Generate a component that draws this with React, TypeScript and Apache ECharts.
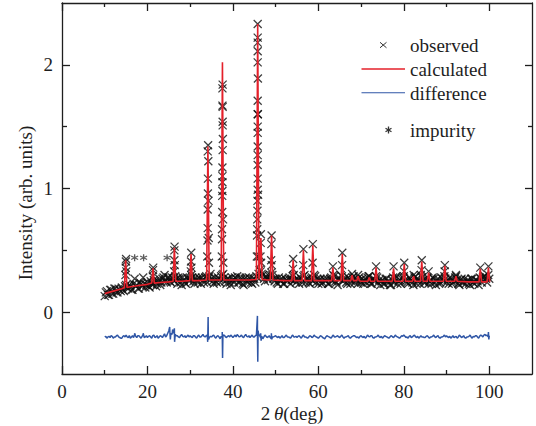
import React, { useEffect, useRef } from "react";
import * as echarts from "echarts";

// ---------- data ----------
const OBS_START = 10;
const OBS_STEP = 0.5;
// observed intensity, 10..100 deg every 0.5 deg (background region)
const obsBase = [
  0.13, 0.17, 0.14, 0.18, 0.15, 0.19, 0.16, 0.18, 0.2, 0.17,
  0.22, 0.19, 0.21, 0.18, 0.27, 0.22, 0.19, 0.23, 0.28, 0.2,
  0.24, 0.2, 0.23, 0.26, 0.21, 0.25, 0.22, 0.27, 0.3, 0.24,
  0.28, 0.24, 0.27, 0.29, 0.23, 0.27, 0.22, 0.26, 0.23, 0.27,
  0.27, 0.28, 0.23, 0.26, 0.28, 0.23, 0.26, 0.28, 0.24, 0.29,
  0.27, 0.23, 0.25, 0.28, 0.24, 0.3, 0.28, 0.23, 0.27, 0.22,
  0.26, 0.28, 0.29, 0.24, 0.27, 0.22, 0.28, 0.24, 0.27, 0.23,
  0.27, 0.29, 0.31, 0.33, 0.3, 0.25, 0.28, 0.29, 0.32, 0.27,
  0.27, 0.23, 0.26, 0.27, 0.23, 0.26, 0.27, 0.23, 0.29, 0.26,
  0.27, 0.23, 0.27, 0.29, 0.24, 0.27, 0.23, 0.28, 0.3, 0.24,
  0.23, 0.27, 0.24, 0.26, 0.27, 0.23, 0.28, 0.3, 0.25, 0.22,
  0.27, 0.29, 0.26, 0.24, 0.28, 0.23, 0.28, 0.24, 0.26, 0.28,
  0.24, 0.23, 0.27, 0.28, 0.25, 0.23, 0.27, 0.29, 0.24, 0.22,
  0.26, 0.23, 0.27, 0.24, 0.22, 0.28, 0.27, 0.23, 0.26, 0.27,
  0.29, 0.25, 0.23, 0.27, 0.24, 0.28, 0.23, 0.26, 0.3, 0.26,
  0.24, 0.28, 0.25, 0.23, 0.27, 0.22, 0.27, 0.24, 0.27, 0.29,
  0.24, 0.23, 0.27, 0.24, 0.28, 0.26, 0.22, 0.27, 0.24, 0.23,
  0.26, 0.22, 0.27, 0.23, 0.26, 0.22, 0.27, 0.28, 0.29, 0.24,
  0.27,
];
// observed intensity at the in-between angles 10.25..99.75 deg
const OBS_MID_START = 10.25;
const obsMid = [
  0.16, 0.14, 0.18, 0.15, 0.19, 0.16, 0.19, 0.17, 0.18, 0.21,
  0.2, 0.22, 0.18, 0.23, 0.21, 0.19, 0.24, 0.21, 0.23, 0.22,
  0.21, 0.25, 0.22, 0.25, 0.23, 0.27, 0.24, 0.28, 0.25, 0.28,
  0.25, 0.28, 0.25, 0.27, 0.28, 0.24, 0.28, 0.24, 0.28, 0.25,
  0.3, 0.25, 0.28, 0.24, 0.27, 0.28, 0.24, 0.29, 0.27, 0.31,
  0.25, 0.28, 0.24, 0.27, 0.29, 0.31, 0.25, 0.27, 0.24, 0.28,
  0.24, 0.27, 0.24, 0.28, 0.23, 0.27, 0.25, 0.28, 0.24, 0.27,
  0.24, 0.28, 0.34, 0.31, 0.27, 0.29, 0.26, 0.3, 0.3, 0.25,
  0.24, 0.28, 0.25, 0.23, 0.27, 0.25, 0.28, 0.26, 0.3, 0.24,
  0.26, 0.28, 0.24, 0.3, 0.27, 0.24, 0.27, 0.25, 0.29, 0.27,
  0.26, 0.23, 0.27, 0.25, 0.23, 0.27, 0.25, 0.29, 0.24, 0.27,
  0.3, 0.25, 0.28, 0.23, 0.27, 0.25, 0.29, 0.26, 0.23, 0.26,
  0.27, 0.25, 0.24, 0.29, 0.23, 0.27, 0.25, 0.28, 0.26, 0.25,
  0.23, 0.27, 0.25, 0.22, 0.26, 0.24, 0.29, 0.25, 0.23, 0.28,
  0.26, 0.24, 0.28, 0.25, 0.22, 0.29, 0.26, 0.23, 0.28, 0.24,
  0.27, 0.23, 0.26, 0.28, 0.24, 0.26, 0.23, 0.28, 0.25, 0.27,
  0.26, 0.28, 0.23, 0.25, 0.29, 0.23, 0.26, 0.24, 0.27, 0.25,
  0.23, 0.27, 0.24, 0.26, 0.25, 0.28, 0.24, 0.29, 0.27, 0.3,
];
// observed points on the Bragg peaks [2theta, intensity]
const obsPeakPoints = [
  [14.85, 0.3], [14.9, 0.36], [14.95, 0.41], [15.0, 0.43], [15.05, 0.33],
  [21.25, 0.29], [21.3, 0.34], [21.35, 0.36],
  [26.25, 0.33], [26.3, 0.42], [26.3, 0.5], [26.35, 0.53], [26.4, 0.38],
  [30.15, 0.33], [30.2, 0.41], [30.25, 0.48], [30.3, 0.36],
  [34.0, 0.45], [34.05, 0.58], [34.1, 0.68], [34.1, 0.83], [34.15, 0.96], [34.15, 1.08],
  [34.1, 1.3], [34.2, 1.35], [34.25, 1.22], [34.3, 0.9], [34.35, 0.6], [34.4, 0.4],
  [37.4, 0.45], [37.45, 0.59], [37.45, 0.67], [37.5, 0.81], [37.5, 0.94], [37.55, 0.98],
  [37.55, 1.05], [37.55, 1.1], [37.55, 1.17], [37.6, 1.31], [37.6, 1.51], [37.6, 1.54],
  [37.6, 1.66], [37.55, 1.67], [37.55, 1.81], [37.6, 1.84], [37.65, 1.4], [37.7, 0.75], [37.75, 0.4],
  [45.6, 0.45], [45.65, 0.62], [45.7, 0.67], [45.7, 0.75], [45.75, 0.82], [45.75, 0.9],
  [45.8, 0.99], [45.8, 1.08], [45.8, 1.19], [45.8, 1.27], [45.8, 1.34], [45.8, 1.45],
  [45.8, 1.5], [45.8, 1.6], [45.8, 1.71], [45.85, 1.89], [45.8, 2.02], [45.8, 2.11],
  [45.8, 2.18], [45.8, 2.22], [45.8, 2.33], [45.85, 1.6], [45.9, 0.95], [45.95, 0.45],
  [46.45, 0.45], [46.5, 0.56], [46.55, 0.63], [46.6, 0.4],
  [48.95, 0.42], [49.0, 0.55], [49.05, 0.62], [49.1, 0.38],
  [54.05, 0.35], [54.1, 0.43],
  [56.45, 0.38], [56.5, 0.51],
  [58.65, 0.4], [58.7, 0.55],
  [63.4, 0.37], [65.55, 0.38], [65.6, 0.48],
  [67.9, 0.31], [69.3, 0.3], [71.9, 0.29], [73.5, 0.37], [77.6, 0.37],
  [80.05, 0.33], [80.1, 0.4], [82.3, 0.3], [84.15, 0.34], [84.2, 0.42],
  [85.8, 0.33], [89.55, 0.33], [89.6, 0.38], [92.2, 0.3], [97.9, 0.36],
  [99.8, 0.37],
];

// calculated profile: background points and peaks
const calcBgX = [10, 12, 14, 16, 18, 20, 23, 25, 28, 32, 36, 40, 44, 48, 52, 60, 62, 70, 76, 79, 87, 91, 95, 99];
const calcBgY = [0.15, 0.17, 0.19, 0.205, 0.215, 0.225, 0.24, 0.245, 0.25, 0.255, 0.26, 0.26, 0.26, 0.26, 0.255, 0.255, 0.255, 0.25, 0.25, 0.25, 0.25, 0.25, 0.245, 0.245];
const peakPos = [14.9, 21.3, 26.3, 30.2, 34.15, 37.55, 45.8, 46.55, 49.05, 54.1, 56.5, 58.7, 63.4, 65.6, 67.9, 69.3, 71.9, 73.5, 77.6, 80.1, 82.3, 84.2, 85.8, 89.6, 92.2, 97.9, 99.8];
const peakTop = [0.42, 0.355, 0.52, 0.47, 1.34, 2.02, 2.33, 0.6, 0.62, 0.42, 0.5, 0.54, 0.36, 0.47, 0.3, 0.29, 0.28, 0.36, 0.355, 0.39, 0.29, 0.41, 0.32, 0.375, 0.29, 0.35, 0.36];
const peakBase = [0.2, 0.235, 0.25, 0.255, 0.26, 0.26, 0.265, 0.265, 0.26, 0.255, 0.255, 0.255, 0.255, 0.255, 0.255, 0.255, 0.25, 0.25, 0.25, 0.25, 0.25, 0.25, 0.25, 0.25, 0.25, 0.245, 0.245];
const PEAK_HALF = 0.3;

// difference curve, every 0.5 deg, in-between angles, plus spikes
const diffBase = [
  -0.2, -0.21, -0.195, -0.19, -0.21, -0.2, -0.185, -0.205, -0.21, -0.19,
  -0.185, -0.205, -0.21, -0.19, -0.18, -0.205, -0.19, -0.21, -0.18, -0.2,
  -0.205, -0.19, -0.21, -0.185, -0.2, -0.21, -0.19, -0.205, -0.175, -0.19,
  -0.15, -0.17, -0.16, -0.18, -0.19, -0.205, -0.18, -0.2, -0.205, -0.185,
  -0.19, -0.205, -0.19, -0.21, -0.185, -0.2, -0.18, -0.2, -0.185, -0.205,
  -0.2, -0.185, -0.21, -0.19, -0.215, -0.2, -0.185, -0.205, -0.19, -0.185,
  -0.205, -0.185, -0.18, -0.2, -0.185, -0.205, -0.18, -0.2, -0.205, -0.185,
  -0.2, -0.185, -0.175, -0.205, -0.215, -0.185, -0.205, -0.19, -0.215, -0.2,
  -0.19, -0.205, -0.21, -0.19, -0.205, -0.185, -0.2, -0.21, -0.185, -0.2,
  -0.205, -0.19, -0.21, -0.185, -0.2, -0.21, -0.19, -0.205, -0.185, -0.2,
  -0.21, -0.19, -0.205, -0.215, -0.19, -0.2, -0.21, -0.185, -0.2, -0.19,
  -0.205, -0.185, -0.21, -0.2, -0.19, -0.21, -0.195, -0.19, -0.205, -0.21,
  -0.19, -0.205, -0.21, -0.185, -0.2, -0.19, -0.21, -0.2, -0.185, -0.205,
  -0.21, -0.19, -0.2, -0.21, -0.19, -0.205, -0.185, -0.2, -0.21, -0.19,
  -0.185, -0.205, -0.21, -0.19, -0.2, -0.185, -0.205, -0.21, -0.19, -0.2,
  -0.205, -0.19, -0.21, -0.2, -0.185, -0.205, -0.19, -0.21, -0.2, -0.185,
  -0.19, -0.205, -0.21, -0.19, -0.2, -0.21, -0.185, -0.205, -0.19, -0.21,
  -0.2, -0.185, -0.21, -0.2, -0.19, -0.21, -0.185, -0.2, -0.18, -0.185,
  -0.19,
];
const diffMid = [
  -0.195, -0.2, -0.205, -0.195, -0.2, -0.19, -0.2, -0.21, -0.195, -0.2,
  -0.2, -0.19, -0.2, -0.205, -0.195, -0.19, -0.2, -0.195, -0.205, -0.19,
  -0.195, -0.2, -0.19, -0.205, -0.19, -0.2, -0.195, -0.19, -0.2, -0.17,
  -0.16, -0.18, -0.17, -0.19, -0.2, -0.19, -0.195, -0.19, -0.195, -0.2,
  -0.2, -0.19, -0.2, -0.195, -0.2, -0.19, -0.195, -0.19, -0.2, -0.195,
  -0.19, -0.2, -0.195, -0.2, -0.195, -0.19, -0.2, -0.195, -0.2, -0.195,
  -0.195, -0.2, -0.19, -0.195, -0.2, -0.19, -0.195, -0.19, -0.195, -0.2,
  -0.19, -0.2, -0.19, -0.195, -0.2, -0.195, -0.2, -0.205, -0.2, -0.195,
  -0.2, -0.195, -0.2, -0.205, -0.195, -0.2, -0.205, -0.195, -0.2, -0.195,
  -0.195, -0.2, -0.195, -0.2, -0.205, -0.2, -0.195, -0.2, -0.195, -0.205,
  -0.2, -0.195, -0.21, -0.2, -0.195, -0.205, -0.195, -0.2, -0.195, -0.2,
  -0.195, -0.2, -0.2, -0.195, -0.205, -0.2, -0.19, -0.2, -0.2, -0.195,
  -0.2, -0.195, -0.2, -0.195, -0.19, -0.205, -0.2, -0.195, -0.2, -0.195,
  -0.2, -0.195, -0.205, -0.2, -0.195, -0.2, -0.195, -0.205, -0.2, -0.195,
  -0.195, -0.2, -0.195, -0.205, -0.19, -0.2, -0.195, -0.2, -0.2, -0.205,
  -0.195, -0.2, -0.2, -0.195, -0.2, -0.195, -0.205, -0.2, -0.195, -0.2,
  -0.2, -0.195, -0.2, -0.205, -0.195, -0.2, -0.195, -0.2, -0.205, -0.2,
  -0.195, -0.2, -0.195, -0.19, -0.2, -0.195, -0.19, -0.185, -0.19, -0.2,
];
const diffSpikes = [
  [17.0, -0.17], [19.0, -0.17], [24.0, -0.17],
  [25.2, -0.12], [25.35, -0.22], [25.9, -0.14], [26.3, -0.13], [26.35, -0.24],
  [34.1, -0.24], [34.2, -0.04], [34.3, -0.22],
  [37.5, -0.16], [37.58, -0.37], [37.66, -0.18],
  [45.74, -0.03], [45.82, -0.4], [45.9, -0.15],
  [46.5, -0.17], [46.6, -0.23], [49.0, -0.17], [49.1, -0.22],
  [99.8, -0.16], [99.9, -0.22],
];

const impurityX = [17.0, 19.1, 24.6];
const impurityY = [0.44, 0.44, 0.44];

const xMajor = [0, 20, 40, 60, 80, 100];
const xMinor = [10, 30, 50, 70, 90];
const yMajor = [0, 1, 2];
const yMinor = [0.5, 1.5];

const legendNames = ["observed", "calculated", "difference", "impurity"];

// ---------- build series data ----------
const byX = (a: number[], b: number[]) => a[0] - b[0];
const obsData = obsBase
  .map((y, i) => [OBS_START + i * OBS_STEP, y])
  .concat(obsMid.map((y, i) => [OBS_MID_START + i * OBS_STEP, y]))
  .concat(obsPeakPoints);
const calcData: number[][] = calcBgX.map((x, i) => [x, calcBgY[i]]);
peakPos.forEach((p, i) => {
  calcData.push([p - PEAK_HALF, peakBase[i]], [p, peakTop[i]], [p + PEAK_HALF, peakBase[i]]);
});
calcData.sort(byX);
const diffData = diffBase
  .map((y, i) => [OBS_START + i * OBS_STEP, y])
  .concat(diffMid.map((y, i) => [OBS_MID_START + i * OBS_STEP, y]))
  .concat(diffSpikes)
  .sort(byX);
const impData = impurityX.map((x, i) => [x, impurityY[i]]);

const FONT = "Liberation Serif";
const INK = "#1e1e1e";
const RED = "#e4202a";
const BLUE = "#2f56a6";

function tickAxis(kind: "x" | "y", pos: string, values: number[], len: number, line: boolean, labels: boolean) {
  return {
    type: "value",
    position: pos,
    min: kind === "x" ? 0 : -0.5,
    max: kind === "x" ? 110 : 2.5,
    splitLine: { show: false },
    axisLine: { show: line, onZero: false, lineStyle: { color: INK, width: 1.3 } },
    axisTick: {
      show: true,
      inside: true,
      length: len,
      customValues: values,
      lineStyle: { color: INK, width: 1.3 },
    },
    axisLabel: labels
      ? {
          show: true,
          customValues: values,
          margin: kind === "x" ? 8 : 9,
          fontFamily: FONT,
          fontSize: 19,
          color: INK,
        }
      : { show: false },
  };
}

export default function App() {
  const ref = useRef<HTMLDivElement>(null);
  useEffect(() => {
    if (!ref.current) return;
    const chart = echarts.init(ref.current, null, { renderer: "svg" });
    const legendFont = { fontFamily: FONT, fontSize: 19, fill: INK };
    chart.setOption({
      animation: false,
      textStyle: { fontFamily: FONT },
      grid: { left: 62, top: 3, right: 4, bottom: 52, containLabel: false, outerBoundsMode: "none" },
      xAxis: [
        tickAxis("x", "bottom", xMajor, 8, true, true),
        tickAxis("x", "bottom", xMinor, 4, false, false),
        tickAxis("x", "top", xMajor, 8, true, false),
        tickAxis("x", "top", xMinor, 4, false, false),
      ],
      yAxis: [
        tickAxis("y", "left", yMajor, 8, true, true),
        tickAxis("y", "left", yMinor, 5, false, false),
        tickAxis("y", "right", yMajor, 7, true, false),
        tickAxis("y", "right", yMinor, 4, false, false),
      ],
      series: [
        {
          name: legendNames[0],
          type: "scatter",
          data: obsData,
          symbol: "path://M0 0L10 10M10 0L0 10",
          symbolSize: 8,
          itemStyle: { color: "transparent", borderColor: "#0d0d0d", borderWidth: 1.25 },
          z: 2,
        },
        {
          name: legendNames[1],
          type: "line",
          data: calcData,
          showSymbol: false,
          symbol: "none",
          lineStyle: { color: RED, width: 1.6 },
          z: 3,
        },
        {
          name: legendNames[2],
          type: "line",
          data: diffData,
          showSymbol: false,
          symbol: "none",
          lineStyle: { color: BLUE, width: 1.5 },
          z: 3,
        },
        {
          name: legendNames[3],
          type: "scatter",
          data: impData,
          symbol: "path://M5 0L5 10M0.7 2.5L9.3 7.5M0.7 7.5L9.3 2.5",
          symbolSize: 7,
          itemStyle: { color: "transparent", borderColor: "#333", borderWidth: 1.3 },
          z: 2,
        },
      ],
      graphic: [
        {
          type: "text",
          x: 25,
          y: 203,
          rotation: Math.PI / 2,
          style: { text: "Intensity (arb. units)", fontFamily: FONT, fontSize: 19, fill: INK, align: "center", verticalAlign: "middle" },
        },
        {
          type: "text",
          x: 292,
          y: 413,
          style: {
            text: "{n|2}{t|\u2009θ}{n|(deg)}",
            align: "center",
            verticalAlign: "middle",
            rich: {
              n: { fontFamily: FONT, fontSize: 19, fill: INK },
              t: { fontFamily: FONT, fontSize: 19, fontStyle: "italic", fill: INK },
            },
          },
        },
        { type: "line", shape: { x1: 380, y1: 42.3, x2: 386.5, y2: 47.8 }, style: { stroke: "#333", lineWidth: 1 } },
        { type: "line", shape: { x1: 386.5, y1: 42.3, x2: 380, y2: 47.8 }, style: { stroke: "#333", lineWidth: 1 } },
        { type: "line", shape: { x1: 361.5, y1: 69, x2: 405, y2: 69 }, style: { stroke: RED, lineWidth: 1.3 } },
        { type: "line", shape: { x1: 361.5, y1: 92.7, x2: 405, y2: 92.7 }, style: { stroke: BLUE, lineWidth: 1.1 } },
        { type: "line", shape: { x1: 388.5, y1: 126.5, x2: 388.5, y2: 133.5 }, style: { stroke: "#333", lineWidth: 1.3 } },
        { type: "line", shape: { x1: 385.5, y1: 128.2, x2: 391.5, y2: 131.8 }, style: { stroke: "#333", lineWidth: 1.3 } },
        { type: "line", shape: { x1: 385.5, y1: 131.8, x2: 391.5, y2: 128.2 }, style: { stroke: "#333", lineWidth: 1.3 } },
        { type: "text", x: 410, y: 45, style: { ...legendFont, text: legendNames[0], verticalAlign: "middle" } },
        { type: "text", x: 410, y: 69.5, style: { ...legendFont, text: legendNames[1], verticalAlign: "middle" } },
        { type: "text", x: 410, y: 93, style: { ...legendFont, text: legendNames[2], verticalAlign: "middle" } },
        { type: "text", x: 410, y: 130, style: { ...legendFont, text: legendNames[3], verticalAlign: "middle" } },
      ],
    });
    return () => chart.dispose();
  }, []);
  return <div ref={ref} style={{ width: 536, height: 426, position: "absolute", left: 0, top: 0 }} />;
}
